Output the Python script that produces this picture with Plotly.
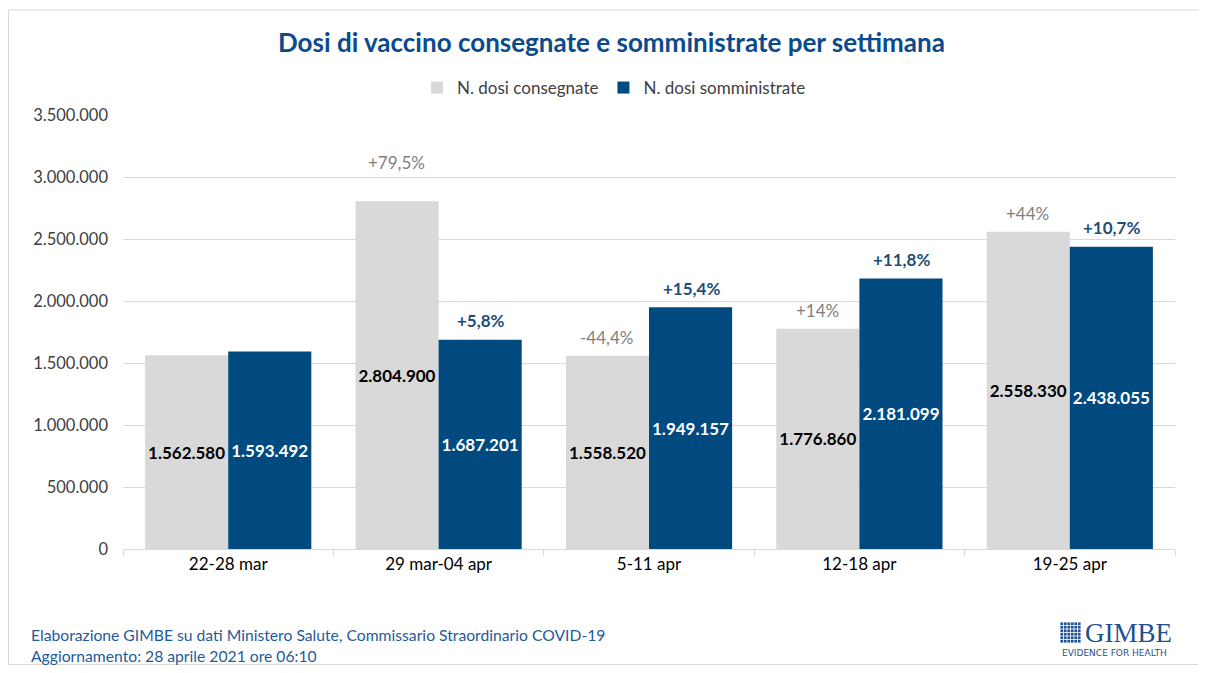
import plotly.graph_objects as go

categories = ["22-28 mar", "29 mar-04 apr", "5-11 apr", "12-18 apr", "19-25 apr"]
consegnate = [1562580, 2804900, 1558520, 1776860, 2558330]
somministrate = [1593492, 1687201, 1949157, 2181099, 2438055]
pct_consegnate = [None, "+79,5%", "-44,4%", "+14%", "+44%"]
pct_somministrate = [None, "+5,8%", "+15,4%", "+11,8%", "+10,7%"]
y_ticks = [0, 500000, 1000000, 1500000, 2000000, 2500000, 3000000, 3500000]

FONT = "Lato, 'Open Sans', sans-serif"
GRAY = "#d9d9d9"
BLUE = "#004a80"
TITLE_BLUE = "#0b4a8b"
TEXT = "#404040"

OFF = 8  # page body margin
W, H = 1206 - 2 * OFF, 673 - 2 * OFF
# plot area in page pixels: x 123..1175, y 115..549
L = 123 - OFF
T = 115 - OFF
R = W - (1175 - OFF)
B = H - (549 - OFF)
PW, PH = W - L - R, H - T - B


def px(x):
    return (x - OFF - L) / PW


def py(y):
    return (H - B - (y - OFF)) / PH


fig = go.Figure()
fig.add_bar(
    x=categories, y=consegnate, name="N. dosi consegnate",
    marker=dict(color=GRAY, line=dict(width=0)),
    texttemplate="<b>%{y:,}</b>", textposition="inside",
    insidetextanchor="middle", textangle=0,
    textfont=dict(color="#000000", size=17, family=FONT),
)
fig.add_bar(
    x=categories, y=somministrate, name="N. dosi somministrate",
    marker=dict(color=BLUE, line=dict(width=0)),
    texttemplate="<b>%{y:,}</b>", textposition="inside",
    insidetextanchor="middle", textangle=0,
    textfont=dict(color="#ffffff", size=17, family=FONT),
)

extra_lift = {"29 mar-04 apr": 21}
annotations = []
for i, c in enumerate(categories):
    if pct_consegnate[i]:
        annotations.append(dict(
            x=i - 0.2, y=consegnate[i], xref="x", yref="y",
            text=pct_consegnate[i], showarrow=False,
            yshift=18 + extra_lift.get(c, 0),
            font=dict(size=17, color="#7f7f7f", family=FONT),
        ))
    if pct_somministrate[i]:
        annotations.append(dict(
            x=i + 0.2, y=somministrate[i], xref="x", yref="y",
            text="<b>" + pct_somministrate[i] + "</b>", showarrow=False,
            yshift=19,
            font=dict(size=17, color="#1f4e79", family=FONT),
        ))

annotations += [
    dict(x=px(611), y=py(42), xref="paper", yref="paper", xanchor="center",
         yanchor="middle", showarrow=False,
         text="<b>Dosi di vaccino consegnate e somministrate per settimana</b>",
         font=dict(size=26, color=TITLE_BLUE, family=FONT)),
    dict(x=px(29), y=py(635), xref="paper", yref="paper", xanchor="left",
         yanchor="middle", showarrow=False,
         text="Elaborazione GIMBE su dati Ministero Salute, Commissario Straordinario COVID-19",
         font=dict(size=15.7, color="#1f5a9a", family=FONT)),
    dict(x=px(29), y=py(656), xref="paper", yref="paper", xanchor="left",
         yanchor="middle", showarrow=False,
         text="Aggiornamento: 28 aprile 2021 ore 06:10",
         font=dict(size=15.7, color="#1f5a9a", family=FONT)),
    dict(x=px(1083), y=py(633), xref="paper", yref="paper", xanchor="left",
         yanchor="middle", showarrow=False, text="GIMBE",
         font=dict(size=27, color="#1f4f8f", family="Liberation Serif, serif")),
    dict(x=px(1114), y=py(653), xref="paper", yref="paper", xanchor="center",
         yanchor="middle", showarrow=False, text="EVIDENCE FOR HEALTH",
         font=dict(size=9, color="#1f4f8f", family="'DejaVu Sans', sans-serif")),
]

shapes = [
    dict(type="rect", xref="paper", yref="paper",
         x0=px(8.5), x1=px(1204), y0=py(664.5), y1=py(10),
         line=dict(color="#d9d9d9", width=1), fillcolor="rgba(0,0,0,0)", layer="below"),
]
# GIMBE logo grid icon
n = 6
x0i, y0i, size = 1060, 622, 21
cell = size / n
for r in range(n):
    for k in range(n):
        shapes.append(dict(
            type="rect", xref="paper", yref="paper",
            x0=px(x0i + k * cell + 0.4), x1=px(x0i + (k + 1) * cell - 0.4),
            y0=py(y0i + (r + 1) * cell - 0.4), y1=py(y0i + r * cell + 0.4),
            line=dict(width=0), fillcolor="#1f4f8f",
        ))

fig.update_layout(
    width=W, height=H,
    margin=dict(l=L, r=R, t=T, b=B, autoexpand=False),
    paper_bgcolor="white", plot_bgcolor="white",
    separators=",.",
    barmode="group", bargap=0.21, bargroupgap=0,
    font=dict(family=FONT, size=17, color=TEXT),
    legend=dict(
        orientation="h", x=px(614), xanchor="center", y=py(88), yanchor="middle",
        font=dict(size=17, color=TEXT, family=FONT),
        itemwidth=30, traceorder="normal",
    ),
    xaxis=dict(
        type="category", showgrid=False, showline=True, linecolor="#d9d9d9",
        linewidth=1, ticks="outside", tickson="boundaries", ticklen=6,
        tickcolor="#d9d9d9", tickfont=dict(size=17, color="#000000", family=FONT),
        fixedrange=True,
    ),
    yaxis=dict(
        range=[0, 3500000], tickvals=y_ticks, tickformat=",d",
        showgrid=True, gridcolor="#d9d9d9", gridwidth=1, zeroline=False,
        showline=False, ticks="", ticklabelstandoff=14,
        tickfont=dict(size=16.5, color=TEXT, family=FONT),
    ),
    annotations=annotations, shapes=shapes,
)

fig.write_html("out.html")
